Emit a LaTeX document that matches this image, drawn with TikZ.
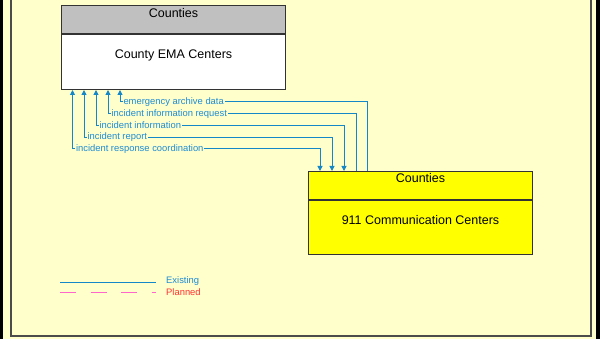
\documentclass[tikz,border=0pt]{standalone}
\usepackage{fontspec}
\setmainfont{Liberation Sans}
\usetikzlibrary{arrows.meta,calc}
\definecolor{bgy}{RGB}{255,255,204}
\definecolor{flow}{RGB}{20,135,200}
\definecolor{flowtxt}{RGB}{30,140,210}
\definecolor{hdrgray}{RGB}{192,192,192}
\definecolor{boxyel}{RGB}{255,255,0}
\definecolor{plan}{RGB}{255,102,204}
\definecolor{plantxt}{RGB}{255,51,51}
\begin{document}
\begin{tikzpicture}[x=1pt,y=-1pt,
  boxpart/.style={draw=black!80,line width=1pt,minimum width=224pt,inner sep=0pt,anchor=north west},
  hdr/.style={boxpart,minimum height=28pt},
  bodyp/.style={boxpart,minimum height=55pt},
  boxtxt/.style={font=\fontsize{12.5}{14}\selectfont,inner sep=0pt},
  flowline/.style={draw=flow,line width=1pt},
  lbl/.style={font=\fontsize{9.4}{10}\selectfont,text=flowtxt,fill=bgy,inner sep=0.8pt,anchor=west},
  onetip/.style={-{Triangle[width=5pt,length=5pt]}},
  twotips/.style={{Triangle[width=5pt,length=5pt]}-{Triangle[width=5pt,length=5pt]}}
]
\useasboundingbox (0,0) rectangle (605,339);
\fill[white] (0,0) rectangle (605,339);
\fill[bgy] (0,0) rectangle (600,339);
\fill[black] (0,0) rectangle (3,339);
\fill[black] (596,0) rectangle (600,339);
\draw[gray!60!black,line width=1.5pt] (11,-2) -- (11,336) -- (591,336) -- (591,-2);

% County EMA Centers
\node[hdr,fill=hdrgray] (emaH) at (61,5) {};
\node[bodyp,fill=white] (emaB) at (emaH.south west) {};
\node[boxtxt] (emaHT) at ($(emaH.north)+(0,7.8)$) {Counties};
\node[boxtxt] (emaBT) at ($(emaB.north)+(0,21.5)$) {County EMA Centers};

% 911 Communication Centers
\node[hdr,fill=boxyel] (cH) at (308,171) {};
\node[bodyp,fill=boxyel,minimum height=54pt] (cB) at (cH.south west) {};
\node[boxtxt] (cHT) at ($(cH.north)+(0,6.8)$) {Counties};
\node[boxtxt] (cBT) at ($(cB.north)+(0,20.5)$) {911 Communication Centers};

% flows
\coordinate (a1) at ($(emaB.south west)+(59,0)$);
\coordinate (a2) at ($(emaB.south west)+(47,0)$);
\coordinate (a3) at ($(emaB.south west)+(35,0)$);
\coordinate (a4) at ($(emaB.south west)+(23,0)$);
\coordinate (a5) at ($(emaB.south west)+(11.5,0)$);
\coordinate (b1) at ($(cH.north west)+(59.5,0)$);
\coordinate (b2) at ($(cH.north west)+(48,0)$);
\coordinate (b3) at ($(cH.north west)+(36,0)$);
\coordinate (b4) at ($(cH.north west)+(24,0)$);
\coordinate (b5) at ($(cH.north west)+(12,0)$);

\draw[flowline,onetip] (b1) |- ($(a1)+(0,12)$) -- (a1);
\draw[flowline,onetip] (b2) |- ($(a2)+(0,23.7)$) -- (a2);
\draw[flowline,twotips] (b3) |- ($(a3)+(0,35.4)$) -- (a3);
\draw[flowline,twotips] (b4) |- ($(a4)+(0,47.1)$) -- (a4);
\draw[flowline,twotips] (b5) |- ($(a5)+(0,58.8)$) -- (a5);

\node[lbl] (l1) at ($(a1)+(2.5,12)$) {emergency archive data};
\node[lbl] (l2) at ($(a2)+(2.5,23.7)$) {incident information request};
\node[lbl] (l3) at ($(a3)+(2.5,35.4)$) {incident information};
\node[lbl] (l4) at ($(a4)+(2.5,47.1)$) {incident report};
\node[lbl] (l5) at ($(a5)+(2.5,58.8)$) {incident response coordination};

% legend
\coordinate (le1) at (60,282);
\coordinate (le2) at (156,282);
\coordinate (lp1) at (60,292);
\coordinate (lp2) at (156,292);
\draw[draw=flow,line width=1pt] (le1) -- (le2);
\draw[draw=plan,line width=1pt,dash pattern=on 16pt off 14.5pt] (lp1) -- (lp2);
\node[lbl,fill=none,inner sep=0pt] (ltE) at (166,281.5) {Existing};
\node[lbl,fill=none,inner sep=0pt,text=plantxt] (ltP) at (166,292.5) {Planned};
\end{tikzpicture}
\end{document}
